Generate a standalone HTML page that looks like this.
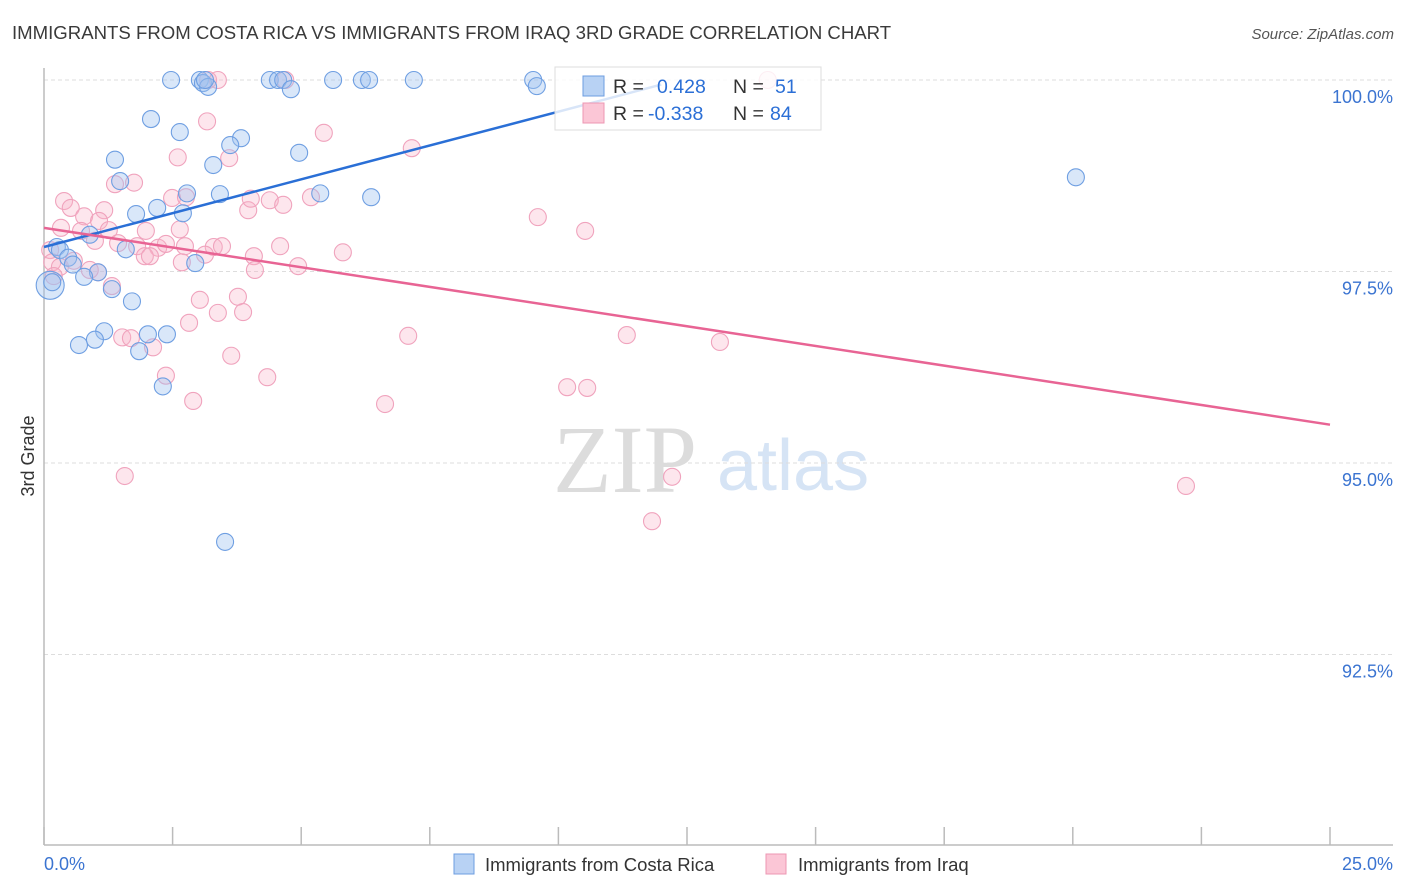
<!DOCTYPE html>
<html><head><meta charset="utf-8"><style>
body{margin:0;background:#fff;font-family:"Liberation Sans",sans-serif}
svg{display:block}
</style></head><body>
<svg id="chart" width="1406" height="892" xmlns="http://www.w3.org/2000/svg">
<text x="12" y="39" font-size="18.6" fill="#3a3a3a">IMMIGRANTS FROM COSTA RICA VS IMMIGRANTS FROM IRAQ 3RD GRADE CORRELATION CHART</text>
<text x="1394" y="39" font-size="15" font-style="italic" fill="#555" text-anchor="end">Source: ZipAtlas.com</text>
<g>
<text x="553" y="492" font-family="Liberation Serif,serif" font-size="96" fill="#dcdcdc">ZIP</text>
<text x="717" y="490" font-size="72" fill="#d6e4f5">atlas</text>
</g>
<g id="grid"></g>
<g id="yticks"></g>
<line x1="44" y1="68" x2="44" y2="845" stroke="#bbb" stroke-width="1.5"/>
<line x1="44" y1="845" x2="1393" y2="845" stroke="#bbb" stroke-width="1.5"/>
<g id="xticks"></g>
<text x="44" y="870" font-size="18" fill="#3b74d1">0.0%</text>
<text x="1393" y="870" font-size="18" fill="#3b74d1" text-anchor="end">25.0%</text>
<text transform="translate(34,456) rotate(-90)" font-size="18" fill="#333" text-anchor="middle">3rd Grade</text>
<g id="pink"></g>
<g id="blue"></g>
<g id="lines"></g>
<g>
<rect x="555" y="67" width="266" height="63" fill="#fff" fill-opacity="0.82" stroke="#ddd"/>
<rect x="583" y="76" width="21" height="20" fill="#b8d2f4" stroke="#6d9de0"/>
<rect x="583" y="103" width="21" height="20" fill="#fbc6d6" stroke="#ec97b3"/>
<text x="613" y="93" font-size="19.5" fill="#333">R = <tspan fill="#2b6fd6" x="657">0.428</tspan><tspan x="733">N = </tspan><tspan fill="#2b6fd6" x="775">51</tspan></text>
<text x="613" y="120" font-size="19.5" fill="#333">R = <tspan fill="#2b6fd6" x="648">-0.338</tspan><tspan x="733">N = </tspan><tspan fill="#2b6fd6" x="770">84</tspan></text>
</g>
<g>
<rect x="454" y="854" width="20" height="20" fill="#b8d2f4" stroke="#6d9de0"/>
<text x="485" y="871" font-size="18.5" fill="#333">Immigrants from Costa Rica</text>
<rect x="766" y="854" width="20" height="20" fill="#fbc6d6" stroke="#ec97b3"/>
<text x="798" y="871" font-size="18.5" fill="#333">Immigrants from Iraq</text>
</g>
</svg>
<script>
const yTicks=[100,97.5,95,92.5];
const yTickLabels=["100.0%","97.5%","95.0%","92.5%"];
const xTickVals=[0,2.5,5,7.5,10,12.5,15,17.5,20,22.5,25];
const blueX=[2.47,3.03,3.09,3.19,3.13,4.39,4.55,4.65,4.80,5.62,6.18,6.32,7.19,9.51,9.58,2.08,2.64,3.83,3.62,3.29,4.96,1.38,1.48,2.78,3.42,5.37,6.36,2.20,1.79,2.70,20.06,0.25,0.31,1.59,0.89,2.94,0.47,0.56,1.05,0.78,1.32,1.71,1.17,0.68,0.99,2.02,2.39,1.85,2.31,3.52,0.12,0.16];
const blueY=[100,100,99.96,99.91,100,100,100,100,99.88,100,100,100,100,100,99.92,99.49,99.32,99.24,99.15,98.89,99.05,98.96,98.68,98.52,98.51,98.52,98.47,98.33,98.25,98.26,98.73,97.82,97.78,97.79,97.98,97.61,97.68,97.59,97.49,97.43,97.27,97.11,96.72,96.54,96.61,96.68,96.68,96.46,96.00,93.97,97.32,97.36];
const pinkX=[3.19,3.38,4.69,14.07,3.17,5.44,2.60,3.60,7.15,1.38,1.75,0.39,0.52,1.17,0.78,1.07,2.49,2.76,3.97,4.02,4.39,4.65,5.19,9.60,10.52,1.98,2.64,0.33,0.72,0.99,1.26,1.44,1.81,2.22,1.96,2.06,2.37,2.74,3.30,3.46,4.08,4.59,2.68,3.13,4.10,4.94,5.81,0.12,0.16,0.31,0.58,1.05,0.89,1.32,0.19,3.03,3.77,3.38,3.87,2.82,1.52,1.69,2.12,3.64,7.08,11.33,13.14,2.37,4.34,10.17,10.56,2.90,6.63,1.57,12.21,11.82,22.20];
const pinkY=[100,100,100,100,99.46,99.31,98.99,98.98,99.11,98.64,98.66,98.42,98.33,98.30,98.22,98.16,98.46,98.47,98.30,98.45,98.43,98.37,98.47,98.21,98.03,98.03,98.05,98.07,98.03,97.90,98.04,97.87,97.83,97.81,97.70,97.70,97.86,97.83,97.82,97.83,97.70,97.83,97.62,97.72,97.52,97.57,97.75,97.78,97.62,97.56,97.64,97.49,97.52,97.31,97.44,97.13,97.17,96.96,96.97,96.83,96.64,96.63,96.51,96.40,96.66,96.67,96.58,96.14,96.12,95.99,95.98,95.81,95.77,94.83,94.82,94.24,94.70];
const blueTrend=[0,97.82,12.0,99.94];
const pinkTrend=[0,98.07,25,95.50];
const NS="http://www.w3.org/2000/svg";
function sx(v){return 44+v*51.44;}
function sy(v){return 80+(100-v)*76.6;}
function mk(t,a,p){const e=document.createElementNS(NS,t);for(const k in a)e.setAttribute(k,a[k]);p.appendChild(e);return e;}
const grid=document.getElementById('grid'),yt=document.getElementById('yticks');
yTicks.forEach((v,i)=>{
 const l=mk('line',{x1:44,x2:1393,y1:sy(v),y2:sy(v),stroke:'#ddd','stroke-dasharray':'4,3'},grid);
 
 
 const t=mk('text',{x:1393,y:sy(v)+23,'font-size':18,fill:'#3b74d1','text-anchor':'end'},yt);
 t.textContent=yTickLabels[i];
 
 
});
const xt=document.getElementById('xticks');
xTickVals.forEach(v=>{
 const l=mk('line',{x1:sx(v),x2:sx(v),y1:827,y2:845,stroke:'#bbb','stroke-width':1.5},xt);
 
 
});
function pts(X,Y,g,fill,stroke,name){
 X.forEach((x,i)=>{
  const r=(name==='costa-rica-point'&&i===50)?14:8.5;
  const c=mk('circle',{cx:sx(x),cy:sy(Y[i]),r:r,fill:fill,stroke:stroke,'stroke-width':1.1},g);
  
  
 });
}
pts(pinkX,pinkY,document.getElementById('pink'),'rgba(248,180,200,0.33)','#f0a3bd','iraq-point');
pts(blueX,blueY,document.getElementById('blue'),'rgba(160,196,240,0.4)','#6f9fe2','costa-rica-point');
const lg=document.getElementById('lines');
const bl=mk('line',{x1:sx(blueTrend[0]),y1:sy(blueTrend[1]),x2:sx(blueTrend[2]),y2:sy(blueTrend[3]),stroke:'#2a6fd6','stroke-width':2.5},lg);


const pl=mk('line',{x1:sx(pinkTrend[0]),y1:sy(pinkTrend[1]),x2:sx(pinkTrend[2]),y2:sy(pinkTrend[3]),stroke:'#e86494','stroke-width':2.5},lg);


</script>
</body></html>
